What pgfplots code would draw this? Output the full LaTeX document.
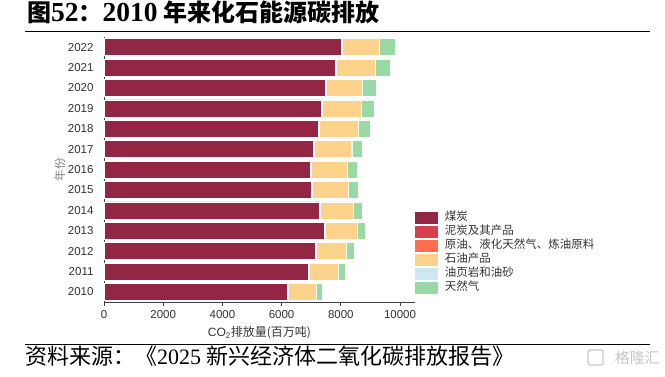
\documentclass[border=0pt]{standalone}
\usepackage{fontspec}
\usepackage{pgfplots}
\usepackage{pgfplotstable}
\pgfplotsset{compat=1.18}
\setmainfont{Liberation Sans}
\newfontfamily\cjk{Noto Sans CJK SC}
\newfontfamily\serifd{Liberation Serif}
\definecolor{coal}{HTML}{932645}
\definecolor{peat}{HTML}{D6404E}
\definecolor{crude}{HTML}{FF6F4F}
\definecolor{oilp}{HTML}{FDD28A}
\definecolor{shale}{HTML}{CDE8EE}
\definecolor{gas}{HTML}{98D9A6}
\definecolor{txt}{HTML}{333333}
\pgfplotstableread{
year coal peat crude oil shale gas
2010 6200 10 20 936 5 189
2011 6899 10 20 969 5 232
2012 7136 10 20 1024 5 255
2013 7429 10 20 1092 5 277
2014 7271 10 20 1115 5 310
2015 7011 10 20 1206 5 322
2016 6956 10 20 1238 5 333
2017 7068 10 20 1272 5 356
2018 7248 10 20 1296 5 412
2019 7350 10 20 1307 5 423
2020 7463 10 20 1227 5 469
2021 7812 10 20 1318 5 512
2022 8026 10 20 1250 5 535
}\datatable
\begin{document}
\begin{tikzpicture}
\path[use as bounding box] (0,0) rectangle (665pt,-377pt);
% title
\node[anchor=base west, inner sep=0pt] at (27pt,-22pt)
  {\cjk\bfseries\fontsize{24}{25}\selectfont 图{\serifd\bfseries\fontsize{27.5}{28}\selectfont 52}：{\serifd\bfseries\fontsize{27.5}{28}\selectfont 2010} 年来化石能源碳排放};
\draw[line width=1.2pt] (25pt,-31.5pt) -- (650pt,-31.5pt);
% footer
\draw[line width=1pt] (25pt,-344.5pt) -- (650pt,-344.5pt);
\node[anchor=base west, inner sep=0pt] at (25pt,-364pt)
  {\cjk\fontsize{22}{23}\selectfont 资料来源：《{\serifd 2025} 新兴经济体二氧化碳排放报告》};
\node[anchor=base east, inner sep=0pt, text=black!22] at (660pt,-363pt)
  {\cjk\fontsize{15}{16}\selectfont 格隆汇};
\draw[black!22, line width=1.2pt, rounded corners=2pt] (588pt,-350pt) rectangle (603pt,-365pt);
\begin{axis}[
  at={(104pt,-302pt)}, anchor=south west,
  scale only axis, width=311pt, height=265pt,
  xbar stacked, bar width=17pt,
  xmin=0, xmax=10507,
  ymin=2009.51, ymax=2022.5,
  xtick={0,2000,4000,6000,8000,10000},
  scaled x ticks=false,
  ytick={2010,2011,...,2022},
  /pgf/number format/1000 sep={},
  /pgf/number format/assume math mode=true,
  axis x line*=bottom, axis y line*=left,
  axis line style={black!75, line width=0.8pt},
  x tick style={black!75, line width=0.8pt},
  major tick length=4pt,
  tick align=outside,
  y tick style={draw=none},
  ticklabel style={font=\fontsize{11.5}{12}\selectfont, text=txt},
  xticklabel style={yshift=-1pt},
  yticklabel style={xshift=-3pt},
  xlabel={\fontsize{12}{13}\selectfont CO\textsubscript{2}{\cjk 排放量(百万吨)}},
  xlabel style={text=txt, yshift=-1pt},
  ylabel={\cjk\fontsize{11.5}{13}\selectfont 年份},
  ylabel style={text=black!50, yshift=-4pt},
  every axis plot/.append style={draw=white, line width=0.5pt,
    legend image code/.code={\fill[##1, draw=none] (0pt,-6pt) rectangle (23pt,6pt);}},
  legend style={draw=none, fill=none, at={(1.0,0.3415)}, anchor=north west,
    inner sep=0pt, outer sep=0pt, row sep=2pt, column sep=7pt,
    font=\cjk\fontsize{11.5}{12}\selectfont, text=txt,
    nodes={inner sep=0pt, text height=9pt, text depth=3pt}},
  legend cell align=left,
  clip=false,
]
\addplot[fill=coal] table[x=coal, y=year] {\datatable};
\addplot[fill=peat] table[x=peat, y=year] {\datatable};
\addplot[fill=crude] table[x=crude, y=year] {\datatable};
\addplot[fill=oilp] table[x=oil, y=year] {\datatable};
\addplot[fill=shale] table[x=shale, y=year] {\datatable};
\addplot[fill=gas] table[x=gas, y=year] {\datatable};
\legend{煤炭, 泥炭及其产品, 原油、液化天然气、炼油原料, 石油产品, 油页岩和油砂, 天然气}
\end{axis}
\end{tikzpicture}
\end{document}
